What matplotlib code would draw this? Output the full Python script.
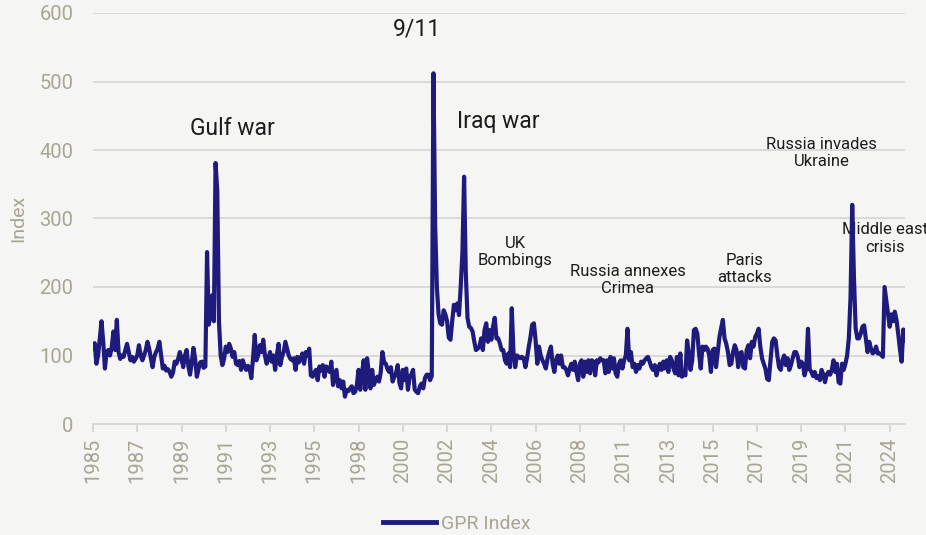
import numpy as np
import pandas as pd
import matplotlib
matplotlib.use("Agg")
import matplotlib.pyplot as plt

plt.rcParams["font.family"] = ["Roboto", "DejaVu Sans"]

# Monthly Geopolitical Risk (GPR) index, Jan 1985 - Oct 2024
gpr_1985_1989 = [
    110, 118, 88, 100, 125, 150, 120, 81, 105, 108, 100, 112,
    135, 108, 152, 105, 95, 100, 98, 108, 117, 105, 93, 98,
    91, 95, 100, 115, 100, 93, 100, 108, 120, 110, 96, 83,
    98, 105, 110, 120, 100, 81, 85, 78, 80, 76, 69, 75,
    91, 88, 95, 105, 95, 83, 100, 108, 85, 72, 90, 111,
]
gpr_1990s = [
    95, 69, 80, 90, 91, 82, 84, 251, 145, 162, 188, 150,
    381, 340, 150, 100, 86, 95, 113, 105, 117, 110, 98, 105,
    88, 86, 92, 79, 93, 85, 79, 85, 81, 67, 96, 130,
    93, 100, 115, 105, 123, 100, 88, 95, 105, 91, 100, 79,
    100, 117, 86, 98, 105, 120, 110, 100, 95, 93, 96, 79,
    98, 90, 96, 103, 88, 105, 100, 110, 71, 69, 75, 79,
    64, 84, 78, 86, 69, 84, 80, 76, 91, 57, 68, 79,
    55, 64, 52, 62, 40, 50, 48, 52, 55, 45, 47, 57,
    79, 50, 73, 93, 50, 96, 75, 52, 79, 57, 64, 69,
    62, 75, 105, 90, 88, 80, 76, 83, 62, 69, 74, 86,
]
gpr_2000s = [
    60, 52, 79, 64, 81, 50, 69, 72, 79, 50, 47, 45,
    55, 59, 52, 67, 72, 72, 64, 70, 512, 290, 200, 160,
    147, 145, 166, 160, 150, 126, 123, 150, 174, 166, 176, 159,
    200, 250, 361, 220, 155, 142, 140, 135, 120, 108, 110, 113,
    125, 108, 137, 147, 120, 137, 123, 142, 155, 125, 125, 118,
    108, 108, 93, 88, 103, 83, 169, 105, 83, 100, 98, 96,
    98, 96, 83, 96, 113, 127, 145, 147, 122, 88, 113, 100,
    93, 88, 81, 95, 105, 113, 88, 76, 93, 100, 88, 100,
    83, 83, 79, 71, 81, 88, 79, 91, 76, 64, 88, 93,
    69, 91, 76, 93, 74, 93, 91, 71, 93, 90, 96, 93,
]
gpr_2010s = [
    93, 74, 93, 76, 98, 81, 96, 74, 69, 88, 93, 81,
    93, 100, 139, 93, 105, 83, 88, 76, 86, 81, 91, 88,
    93, 96, 98, 91, 83, 79, 86, 71, 81, 88, 79, 91,
    81, 93, 76, 98, 93, 81, 74, 98, 71, 103, 69, 74,
    71, 122, 103, 79, 93, 137, 139, 132, 103, 81, 113, 108,
    113, 110, 100, 76, 108, 110, 83, 105, 127, 140, 152, 125,
    117, 105, 86, 88, 105, 115, 108, 83, 103, 105, 83, 81,
    108, 115, 96, 120, 113, 127, 132, 139, 113, 96, 88, 81,
    66, 64, 93, 120, 125, 122, 100, 83, 79, 93, 100, 86,
    96, 79, 86, 96, 105, 105, 98, 83, 91, 88, 71, 81,
]
gpr_2020s = [
    139, 80, 76, 70, 76, 67, 70, 64, 79, 72, 61, 72,
    76, 72, 79, 93, 76, 88, 61, 59, 88, 79, 88, 100,
    125, 185, 320, 215, 140, 125, 125, 132, 142, 144, 125, 105,
    120, 110, 103, 105, 113, 103, 103, 101, 98, 200, 181, 161,
    142, 160, 150, 164, 152, 132, 110, 91, 138, 122,
]

tick_years = ["1985", "1987", "1989", "1991", "1993", "1995", "1998", "2000",
              "2002", "2004", "2006", "2008", "2011", "2013", "2015", "2017",
              "2019", "2021", "2024"]
tick_step = 26  # one axis label every 26 months

events = [
    ("9/11", "2000-11", 577, "big"),
    ("Gulf war", "1991-11", 432, "big"),
    ("Iraq war", "2004-11", 442, "big"),
    ("UK\nBombings", "2005-09", 251, "small"),
    ("Russia annexes\nCrimea", "2011-03", 210, "small"),
    ("Paris\nattacks", "2016-12", 226, "small"),
    ("Russia invades\nUkraine", "2020-09", 396, "small"),
    ("Middle east\ncrisis", "2023-10", 271, "small"),
]

values = np.array(gpr_1985_1989 + gpr_1990s + gpr_2000s + gpr_2010s + gpr_2020s, dtype=float)
dates = pd.date_range("1985-01-01", periods=len(values), freq="MS")
xpos = np.arange(len(values))

BG = "#f5f5f3"
LINE = "#1e1b7c"
GRID = "#d9d9d9"
MUTED = "#a8a595"
INK = "#1c1c1c"

fig = plt.figure(figsize=(9.26, 5.35), dpi=100, facecolor=BG)
ax = fig.add_axes([93 / 926, 1 - 424 / 535, (905 - 93) / 926, (424 - 13) / 535])
ax.set_facecolor(BG)

ax.plot(xpos, values, color=LINE, lw=3.0, solid_joinstyle="round", zorder=3, label="GPR Index")

ax.set_xlim(0, len(values) - 1)
ax.set_ylim(0, 600)
ax.set_yticks(np.arange(0, 601, 100))
ax.yaxis.grid(True, color=GRID, lw=1.4, zorder=0)
ax.set_axisbelow(True)
for s in ["top", "right", "left"]:
    ax.spines[s].set_visible(False)
ax.spines["bottom"].set_color(GRID)
ax.spines["bottom"].set_linewidth(1.4)

ticks = np.arange(0, len(values), tick_step)
ax.set_xticks(ticks)
ax.set_xticklabels(tick_years, rotation=90, va="top", ha="center")
ax.tick_params(axis="x", colors=GRID, length=6, width=1.4, pad=4, labelsize=14.5, labelcolor=MUTED)
ax.tick_params(axis="y", length=0, pad=14, labelsize=14.5, labelcolor=MUTED)

ax.set_ylabel("Index", color=MUTED, fontsize=14)
ax.yaxis.set_label_coords(-0.081, 0.5)

month_index = {d.strftime("%Y-%m"): i for i, d in enumerate(dates)}
for text, when, yv, size in events:
    fs = 16.5 if size == "big" else 12.0
    ax.text(month_index[when], yv, text, ha="center", va="center", fontsize=fs,
            color=INK, linespacing=1.2, zorder=2, clip_on=False)

leg = fig.legend(loc="center", bbox_to_anchor=(457 / 926, 1 - 524 / 535), frameon=False,
                 fontsize=14, handlelength=2.7, handletextpad=0.3)
for t in leg.get_texts():
    t.set_color(MUTED)
for h in leg.get_lines():
    h.set_linewidth(3.5)

fig.savefig("out.png", dpi=100, facecolor=BG)
